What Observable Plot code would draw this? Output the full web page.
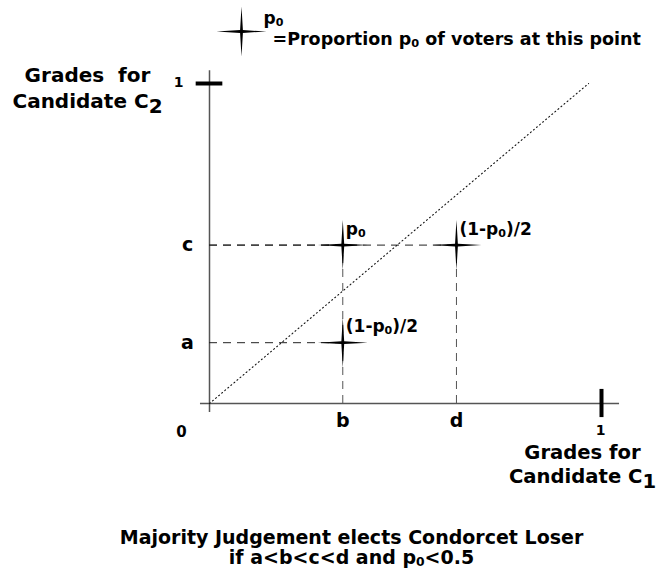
<!DOCTYPE html>
<html>
<head>
<meta charset="utf-8">
<script src="https://cdn.jsdelivr.net/npm/d3@7"></script>
<script src="https://cdn.jsdelivr.net/npm/@observablehq/plot@0.6"></script>
<style>
  html, body { margin: 0; padding: 0; background: #fff; }
  svg { font-family: "DejaVu Sans", sans-serif; }
</style>
</head>
<body>
<div id="chart"></div>
<script>
// ---- data ----
const gradeLetters = ["a", "b", "c", "d"];
const gradeValues = [0.19, 0.34, 0.495, 0.63];   // a, b, c, d
const g = Object.fromEntries(gradeLetters.map((k, i) => [k, gradeValues[i]]));

// voter groups: C1 grade, C2 grade, label
const groupC1 = [g.b, g.d, g.b];
const groupC2 = [g.c, g.c, g.a];
const groupLabels = ["p_0", "(1-p_0)/2", "(1-p_0)/2"];
const groups = groupC1.map((x, i) => ({x, y: groupC2[i], label: groupLabels[i]}));

const axisExtentX = [-0.023, 1.046];
const axisExtentY = [-0.028, 1.04];
const diagonal = [[0, 0], [0.967, 1.0]];
const tickX = [1];
const tickY = [1];
const tickHalfX = 0.034;   // half-length of the y=1 tick (in x units)
const tickHalfY = 0.044;   // half-length of the x=1 tick (in y units)

// four-point sparkle symbol
const sparkle = {
  draw(ctx, size) {
    const R = Math.sqrt(size / Math.PI), w = 1.4;
    ctx.moveTo(0, -R);
    ctx.lineTo(w, -w); ctx.lineTo(R, 0); ctx.lineTo(w, w);
    ctx.lineTo(0, R); ctx.lineTo(-w, w); ctx.lineTo(-R, 0); ctx.lineTo(-w, -w);
    ctx.closePath();
  }
};

const font = {fontFamily: "DejaVu Sans", fontWeight: "bold", fill: "black"};

const chart = Plot.plot({
  width: 658, height: 572,
  marginLeft: 209, marginRight: 57, marginTop: 83, marginBottom: 169,
  x: {type: "linear", domain: [0, 1], axis: null},
  y: {type: "linear", domain: [0, 1], axis: null},
  marks: [
    // axes
    Plot.ruleX([0], {y1: axisExtentY[0], y2: axisExtentY[1], stroke: "#555", strokeWidth: 1.5}),
    Plot.ruleY([0], {x1: axisExtentX[0], x2: axisExtentX[1], stroke: "#555", strokeWidth: 1.5}),
    Plot.ruleY(tickY, {y: d => d, x1: -tickHalfX, x2: tickHalfX, stroke: "black", strokeWidth: 4}),
    Plot.ruleX(tickX, {x: d => d, y1: -tickHalfY, y2: tickHalfY, stroke: "black", strokeWidth: 4}),
    // diagonal
    Plot.line(diagonal, {x: d => d[0], y: d => d[1], stroke: "#111", strokeWidth: 1.1, strokeDasharray: "1,3"}),
    // dashed guides
    Plot.ruleY(groups, {y: "y", x1: 0, x2: "x", stroke: "#222", strokeWidth: 1, strokeDasharray: "8,6"}),
    Plot.ruleX(groups.filter((d, i) => i < 2), {x: "x", y1: 0, y2: "y", stroke: "#555", strokeWidth: 1, strokeDasharray: "8,6"}),
    // stars
    Plot.dot(groups, {x: "x", y: "y", r: 25, symbol: sparkle, fill: "black", stroke: null}),
    Plot.text(groups, {x: "x", y: "y", text: "label", textAnchor: "start", dx: 3, dy: -16, fontSize: 17, ...font}),
    // letter ticks
    Plot.text(["a", "c"], {x: 0, y: d => g[d], text: d => d, dx: -22, fontSize: 19, ...font}),
    Plot.text(["b", "d"], {x: d => g[d], y: 0, text: d => d, dy: 17, fontSize: 19, ...font}),
    Plot.text(["0"], {x: 0, y: 0, text: d => d, dx: -28, dy: 29, fontSize: 15, ...font}),
    Plot.text(tickY, {x: 0, y: d => d, text: d => String(d), dx: -31, dy: -1, fontSize: 14, ...font}),
    Plot.text(tickX, {x: d => d, y: 0, text: d => String(d), dx: -1, dy: 27, fontSize: 14, ...font}),
    // axis titles
    Plot.text(["Grades  for\nCandidate C^2"], {frameAnchor: "top-left", textAnchor: "middle", dx: -122, dy: 3, lineAnchor: "middle", lineHeight: 1.3, fontSize: 20, ...font}),
    Plot.text(["Grades for\nCandidate C^1"], {frameAnchor: "bottom-right", textAnchor: "middle", dx: -19, dy: 60, lineAnchor: "middle", lineHeight: 1.2, fontSize: 19.6, ...font}),
    // legend
    Plot.dot([0], {frameAnchor: "top-left", dx: 32, dy: -52, r: 25, symbol: sparkle, fill: "black", stroke: null}),
    Plot.text(["p_0"], {frameAnchor: "top-left", dx: 54, dy: -72, textAnchor: "start", fontSize: 17, ...font}),
    Plot.text(["=Proportion p_0 of voters at this point"], {frameAnchor: "top-left", dx: 63, dy: -51, textAnchor: "start", fontSize: 17.5, ...font}),
    // caption
    Plot.text(["Majority Judgement elects Condorcet Loser\nif a<b<c<d and p_0<0.5"], {frameAnchor: "bottom", textAnchor: "middle", dx: -54, dy: 144, lineAnchor: "middle", lineHeight: 1.05, fontSize: 19, ...font})
  ]
});

// subscripts: _x small subscript, ^x large subscript
function applySubs(svg) {
  const NS = "http://www.w3.org/2000/svg";
  const mk = (s) => { const t = document.createElementNS(NS, "tspan"); t.textContent = s; return t; };
  svg.querySelectorAll("text").forEach(t => {
    const tsp = t.querySelectorAll("tspan");
    const targets = tsp.length ? [...tsp] : [t];
    targets.forEach(el => {
      const s = el.textContent;
      if (!/[_^]/.test(s)) return;
      el.textContent = "";
      const re = /([_^])(\w)/g; let last = 0, m;
      while ((m = re.exec(s))) {
        if (m.index > last) el.appendChild(mk(s.slice(last, m.index)));
        const sub = mk(m[2]);
        if (m[1] === "_") { sub.setAttribute("font-size", "0.65em"); sub.setAttribute("baseline-shift", "-0.15em"); }
        else { sub.setAttribute("baseline-shift", "-0.25em"); }
        el.appendChild(sub);
        last = re.lastIndex;
      }
      if (last < s.length) el.appendChild(mk(s.slice(last)));
    });
  });
}
applySubs(chart);
document.getElementById("chart").appendChild(chart);
</script>
</body>
</html>
